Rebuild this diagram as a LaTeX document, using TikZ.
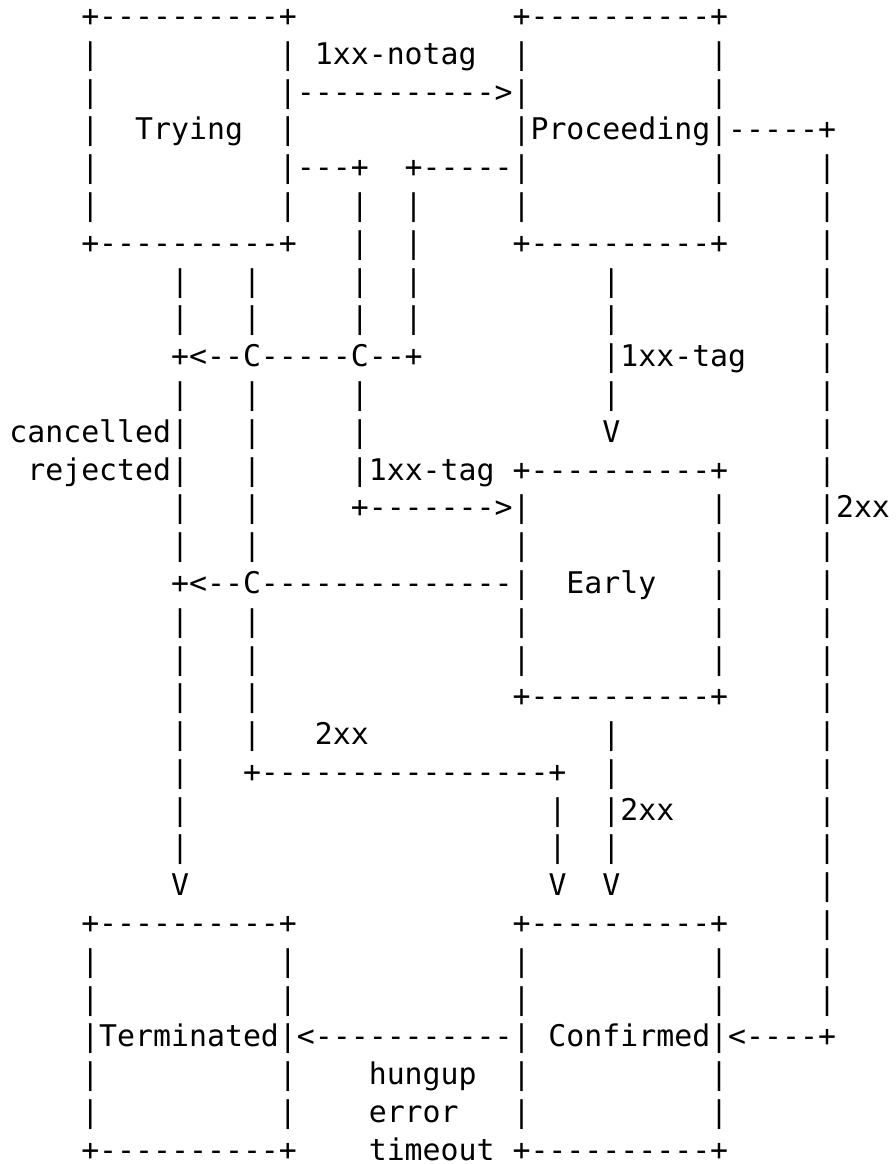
\documentclass[tikz,border=0pt]{standalone}
\usepackage{fontspec}
\setmonofont{DejaVu Sans Mono}[Ligatures=TeXOff]
\newlength\cw
\setlength\cw{17.97pt}
\newcommand\sk[1]{\hspace*{#1\cw}}
\newcommand\asciifont{\ttfamily\fontsize{29.85pt}{37.79pt}\selectfont}
\tikzset{asc/.style={anchor=base west, inner sep=0pt, outer sep=0pt, font=\asciifont, text=black}}
\newcommand\arow[2]{\node[asc] (l#1) at (9.4, {26.6+#1*37.79}) {#2};}
\begin{document}
\begin{tikzpicture}[x=1pt,y=-1pt]
\useasboundingbox (0,0) rectangle (895,1164);
\arow{0}{\sk{4}+----------+\sk{12}+----------+}
\arow{1}{\sk{4}|\sk{10}|\sk{1}1xx-notag\sk{2}|\sk{10}|}
\arow{2}{\sk{4}|\sk{10}|----------->|\sk{10}|}
\arow{3}{\sk{4}|\sk{2}Trying\sk{2}|\sk{12}|Proceeding|-----+}
\arow{4}{\sk{4}|\sk{10}|---+\sk{2}+-----|\sk{10}|\sk{5}|}
\arow{5}{\sk{4}|\sk{10}|\sk{3}|\sk{2}|\sk{5}|\sk{10}|\sk{5}|}
\arow{6}{\sk{4}+----------+\sk{3}|\sk{2}|\sk{5}+----------+\sk{5}|}
\arow{7}{\sk{9}|\sk{3}|\sk{5}|\sk{2}|\sk{10}|\sk{11}|}
\arow{8}{\sk{9}|\sk{3}|\sk{5}|\sk{2}|\sk{10}|\sk{11}|}
\arow{9}{\sk{9}+<--C-----C--+\sk{10}|1xx-tag\sk{4}|}
\arow{10}{\sk{9}|\sk{3}|\sk{5}|\sk{13}|\sk{11}|}
\arow{11}{cancelled|\sk{3}|\sk{5}|\sk{13}V\sk{11}|}
\arow{12}{\sk{1}rejected|\sk{3}|\sk{5}|1xx-tag\sk{1}+----------+\sk{5}|}
\arow{13}{\sk{9}|\sk{3}|\sk{5}+------->|\sk{10}|\sk{5}|2xx}
\arow{14}{\sk{9}|\sk{3}|\sk{14}|\sk{10}|\sk{5}|}
\arow{15}{\sk{9}+<--C--------------|\sk{2}Early\sk{3}|\sk{5}|}
\arow{16}{\sk{9}|\sk{3}|\sk{14}|\sk{10}|\sk{5}|}
\arow{17}{\sk{9}|\sk{3}|\sk{14}|\sk{10}|\sk{5}|}
\arow{18}{\sk{9}|\sk{3}|\sk{14}+----------+\sk{5}|}
\arow{19}{\sk{9}|\sk{3}|\sk{3}2xx\sk{13}|\sk{11}|}
\arow{20}{\sk{9}|\sk{3}+----------------+\sk{2}|\sk{11}|}
\arow{21}{\sk{9}|\sk{20}|\sk{2}|2xx\sk{8}|}
\arow{22}{\sk{9}|\sk{20}|\sk{2}|\sk{11}|}
\arow{23}{\sk{9}V\sk{20}V\sk{2}V\sk{11}|}
\arow{24}{\sk{4}+----------+\sk{12}+----------+\sk{5}|}
\arow{25}{\sk{4}|\sk{10}|\sk{12}|\sk{10}|\sk{5}|}
\arow{26}{\sk{4}|\sk{10}|\sk{12}|\sk{10}|\sk{5}|}
\arow{27}{\sk{4}|Terminated|<-----------|\sk{1}Confirmed|<----+}
\arow{28}{\sk{4}|\sk{10}|\sk{4}hungup\sk{2}|\sk{10}|}
\arow{29}{\sk{4}|\sk{10}|\sk{4}error\sk{3}|\sk{10}|}
\arow{30}{\sk{4}+----------+\sk{4}timeout\sk{1}+----------+}
\end{tikzpicture}
\end{document}
